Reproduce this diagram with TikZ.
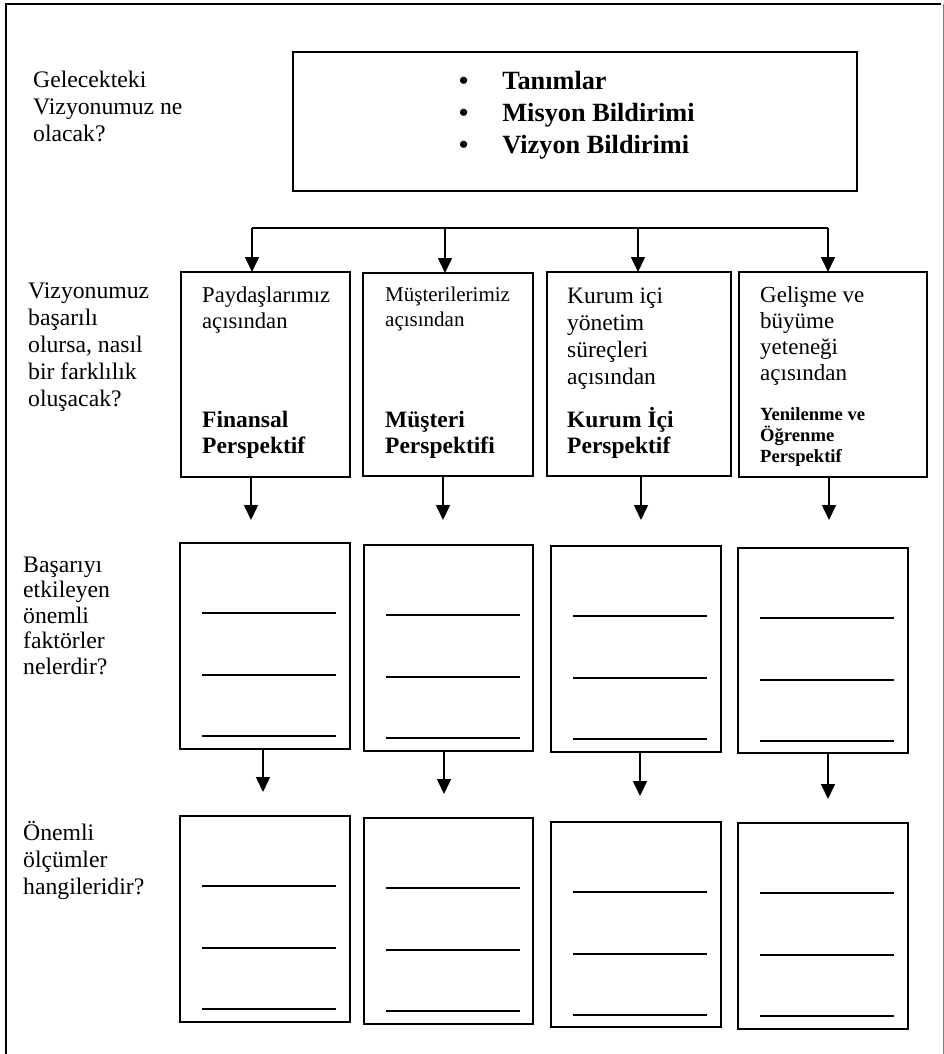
\documentclass[tikz,border=0pt]{standalone}
\usepackage{fontspec}
\setmainfont{Liberation Serif}
\usetikzlibrary{arrows.meta}

\tikzset{
  frame/.style={line width=2pt, line cap=rect},
  box/.style={draw, line width=2pt, anchor=north west, inner sep=0pt, outer sep=0pt},
  rule/.style={line width=1.6pt},
  arr/.style={line width=1.6pt, -{Triangle[width=14pt,length=15pt]}},
  txt/.style={anchor=base west, inner sep=0pt},
  question/.style={txt, font=\fontsize{23.7}{27}\selectfont},
  regular/.style={txt, font=\fontsize{23.5}{26.5}\selectfont},
  heading/.style={txt, font=\fontsize{23.5}{26}\selectfont\bfseries},
}

% lines stacked left-aligned; the baseline is that of the first line
\newcommand{\stack}[1]{\begin{tabular}[t]{@{}l@{}}#1\end{tabular}}

% a blank form box: three writing rules inside
\newcommand{\formbox}[5]{%
  \node[box, minimum width=#4pt, minimum height=#5pt] (#1) at (#2,#3) {};
  \foreach \dy in {70,132,193}
    \draw[rule] ([shift={(22,\dy)}]#1.north west) -- ++(134,0);
}

\begin{document}
\begin{tikzpicture}[x=1pt, y=-1pt]
\useasboundingbox (0,0) rectangle (944,1054);

% page frame
\draw[frame] (6,1060) -- (6,4) -- (940,4);
\draw[gray, line width=1pt] (943,4) -- (943,1060);

% questions in the left column
\node[question] (q1) at (33,88) {\stack{Gelecekteki\\Vizyonumuz ne\\olacak?}};
\node[question] (q2) at (28,298) {\stack{Vizyonumuz\\başarılı\\olursa, nasıl\\bir farklılık\\oluşacak?}};
\node[question, font=\fontsize{23.7}{25.5}\selectfont] (q3) at (23,572) {\stack{Başarıyı\\etkileyen\\önemli\\faktörler\\nelerdir?}};
\node[question] (q4) at (23,840) {\stack{Önemli\\ölçümler\\hangileridir?}};

% vision box
\node[box, minimum width=564pt, minimum height=139pt] (top) at (293,52) {};
\node[txt, font=\fontsize{26.3}{32}\selectfont\bfseries] (list) at (459,90)
  {\begin{tabular}[t]{@{}l@{\hspace{34pt}}l@{}}
     • & Tanımlar\\
     • & Misyon Bildirimi\\
     • & Vizyon Bildirimi
   \end{tabular}};

% perspective boxes
\node[box, minimum width=169pt, minimum height=205pt] (p1) at (181,272) {};
\node[box, minimum width=170pt, minimum height=203pt] (p2) at (363,273) {};
\node[box, minimum width=184pt, minimum height=204pt] (p3) at (547,272) {};
\node[box, minimum width=188pt, minimum height=205pt] (p4) at (739,272) {};

\node[regular, font=\fontsize{22.6}{26}\selectfont] (p1a) at (202,302) {\stack{Paydaşlarımız\\açısından}};
\node[heading] (p1b) at (202,427) {\stack{Finansal\\Perspektif}};

\node[txt, font=\fontsize{21}{25}\selectfont] (p2a) at (385,301) {\stack{Müşterilerimiz\\açısından}};
\node[heading] (p2b) at (385,427) {\stack{Müşteri\\Perspektifi}};

\node[txt, font=\fontsize{23.5}{27.3}\selectfont] (p3a) at (567,303) {\stack{Kurum içi\\yönetim\\süreçleri\\açısından}};
\node[heading] (p3b) at (567,427) {\stack{Kurum İçi\\Perspektif}};

\node[regular, font=\fontsize{23}{26}\selectfont] (p4a) at (760,302) {\stack{Gelişme ve\\büyüme\\yeteneği\\açısından}};
\node[txt, font=\fontsize{18.6}{21}\selectfont\bfseries] (p4b) at (760,420) {\stack{Yenilenme ve\\Öğrenme\\Perspektif}};

% branching from the vision to the perspectives
\coordinate (h1) at (252,228);
\coordinate (h2) at (445,228);
\coordinate (h3) at (638,228);
\coordinate (h4) at (828,228);
\draw[rule] (h1) -- (h4);
\draw[arr] (h1) -- (h1 |- p1.north);
\draw[arr] (h2) -- (h2 |- p2.north);
\draw[arr] (h3) -- (h3 |- p3.north);
\draw[arr] (h4) -- (h4 |- p4.north);

% success factor boxes
\formbox{f1}{180}{543}{170}{206}
\formbox{f2}{364}{545}{169}{206}
\formbox{f3}{551}{546}{170}{206}
\formbox{f4}{738}{548}{170}{205}

% measure boxes
\formbox{m1}{180}{816}{170}{206}
\formbox{m2}{364}{818}{169}{206}
\formbox{m3}{551}{822}{170}{205}
\formbox{m4}{738}{823}{170}{206}

% arrows below the perspectives
\coordinate (a1) at (251,520);
\coordinate (a2) at (443,520);
\coordinate (a3) at (641,520);
\coordinate (a4) at (829,520);
\draw[arr] (p1.south -| a1) -- (a1);
\draw[arr] (p2.south -| a2) -- (a2);
\draw[arr] (p3.south -| a3) -- (a3);
\draw[arr] (p4.south -| a4) -- (a4);

% arrows below the success factors
\coordinate (b1) at (263,792);
\coordinate (b2) at (444,794);
\coordinate (b3) at (640,796);
\coordinate (b4) at (828,799);
\draw[arr] (f1.south -| b1) -- (b1);
\draw[arr] (f2.south -| b2) -- (b2);
\draw[arr] (f3.south -| b3) -- (b3);
\draw[arr] (f4.south -| b4) -- (b4);
\end{tikzpicture}
\end{document}
